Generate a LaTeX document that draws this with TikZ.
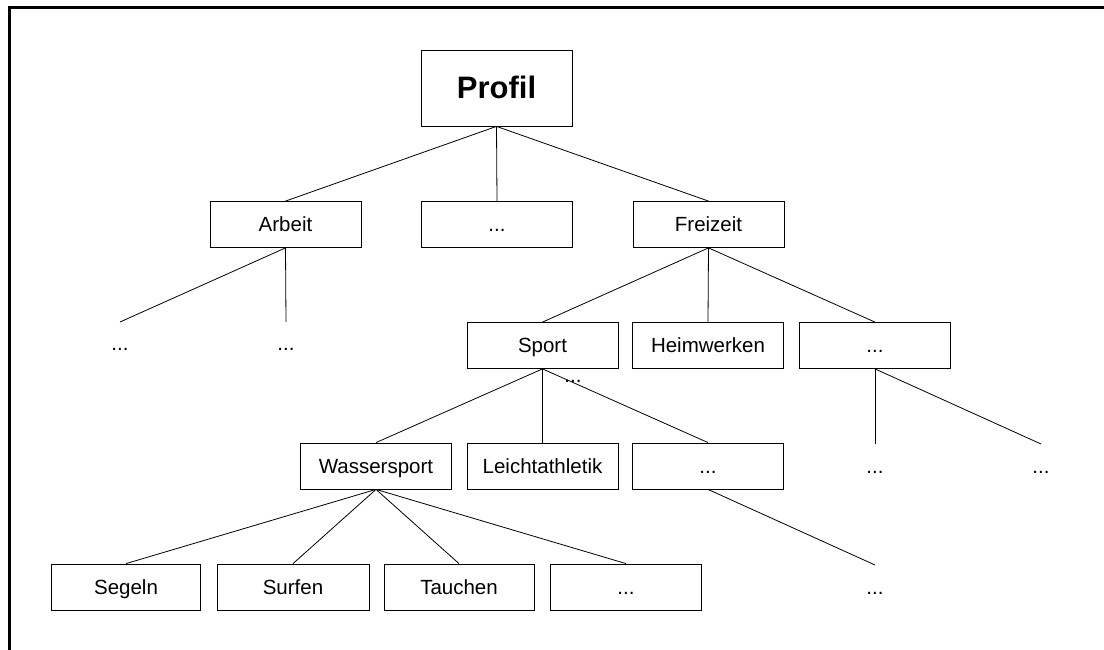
\documentclass[tikz,border=0pt]{standalone}
\usepackage{fontspec}
\setmainfont{Liberation Sans}
\begin{document}
\begin{tikzpicture}[x=1pt,y=-1pt,
  box/.style={draw=black,line width=0.8pt,minimum width=151pt,minimum height=46pt,inner sep=0pt,
    font=\fontsize{20.5}{24}\selectfont,text height=14.5pt,text depth=0pt},
  topbox/.style={box,minimum height=76pt,font=\fontsize{31}{36}\selectfont\bfseries,text height=21pt},
  lbl/.style={anchor=base,inner sep=0pt,font=\fontsize{20.5}{24}\selectfont},
  conn/.style={line width=0.8pt},
  frame/.style={line width=2.5pt}]
\useasboundingbox (0,0) rectangle (1104,650);
\draw[frame] (9.5,650) -- (9.5,7.5) -- (1104,7.5);

% level 0
\node[topbox] (profil) at (496.5,88) {Profil};
% level 1
\node[box] (arbeit) at (285.5,224.5) {Arbeit};
\node[box] (dotsA) at (497,224.5) {...};
\node[box] (freizeit) at (708.5,224.5) {Freizeit};
% level 2
\node[box] (sport) at (542.5,345.5) {Sport};
\node[box] (heim) at (708,345.5) {Heimwerken};
\node[box] (dotsB) at (875,345.5) {...};
% level 3
\node[box] (wasser) at (376,466) {Wassersport};
\node[box] (leicht) at (542.5,466) {Leichtathletik};
\node[box] (dotsC) at (708,466) {...};
% level 4
\node[box,minimum width=149pt] (segeln) at (126,587) {Segeln};
\node[box,minimum width=152pt] (surfen) at (293,587) {Surfen};
\node[box,minimum width=150pt] (tauchen) at (459,587) {Tauchen};
\node[box,minimum width=151pt] (dotsD) at (626,587) {...};

% free labels
\node[lbl] (arbL) at (120,350.5) {...};
\node[lbl] (arbR) at (286,350.5) {...};
\node[lbl] (sportX) at (573,382.5) {...};
\node[lbl] (bL) at (875,473.5) {...};
\node[lbl] (bR) at (1041,473.5) {...};
\node[lbl] (cD) at (875,594.5) {...};

% free line ends
\coordinate (arbLe) at (120,322);
\coordinate (arbRe) at (286,322);
\coordinate (bLe) at (875,444);
\coordinate (bRe) at (1041,444);
\coordinate (cDe) at (875,565);

% connectors
\draw[conn] (profil.south) -- (arbeit.north);
\draw[conn] (profil.south) -- (dotsA.north);
\draw[conn] (profil.south) -- (freizeit.north);
\draw[conn] (arbeit.south) -- (arbLe);
\draw[conn] (arbeit.south) -- (arbRe);
\draw[conn] (freizeit.south) -- (sport.north);
\draw[conn] (freizeit.south) -- (heim.north);
\draw[conn] (freizeit.south) -- (dotsB.north);
\draw[conn] (dotsB.south) -- (bLe);
\draw[conn] (dotsB.south) -- (bRe);
\draw[conn] (sport.south) -- (wasser.north);
\draw[conn] (sport.south) -- (leicht.north);
\draw[conn] (sport.south) -- (dotsC.north);
\draw[conn] (dotsC.south) -- (cDe);
\draw[conn] (wasser.south) -- (segeln.north);
\draw[conn] (wasser.south) -- (surfen.north);
\draw[conn] (wasser.south) -- (tauchen.north);
\draw[conn] (wasser.south) -- (dotsD.north);
\end{tikzpicture}
\end{document}
